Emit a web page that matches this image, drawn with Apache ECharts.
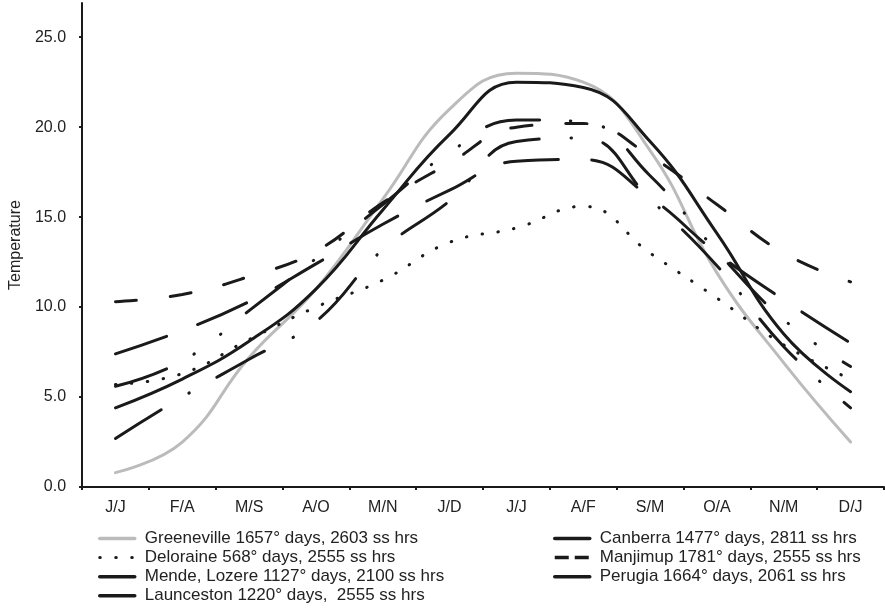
<!DOCTYPE html>
<html>
<head>
<meta charset="utf-8">
<script src="https://cdn.jsdelivr.net/npm/echarts@6/dist/echarts.min.js"></script>
<style>
  html, body { margin: 0; padding: 0; background: #fff; }
  #chart { width: 885px; height: 610px; }
</style>
</head>
<body>
<div id="chart"></div>
<script>
// month pairs (northern / southern hemisphere)
var months = ["J/J", "F/A", "M/S", "A/O", "M/N", "J/D", "J/J", "A/F", "S/M", "O/A", "N/M", "D/J"];
var yTicks = [0, 5, 10, 15, 20, 25];

var greeneville = [0.8, 2.5, 7.2, 11.0, 16.0, 21.0, 23.0, 22.5, 18.7, 11.9, 6.9, 2.5];
var deloraine   = [5.7, 6.3, 8.2, 10.0, 11.5, 13.6, 14.4, 15.6, 13.0, 10.5, 7.9, 6.0];
var mende       = [2.7, 5.0, 7.1, 9.2, 13.2, 15.9, 19.2, 19.4, 16.0, 12.3, 7.8, 4.4];
var launceston  = [7.4, 8.7, 10.3, 12.4, 14.6, 16.5, 18.1, 18.2, 16.1, 13.0, 10.4, 8.0];
var canberra    = [5.6, 7.0, 9.8, 12.7, 15.7, 18.6, 20.4, 20.3, 17.3, 13.1, 9.3, 6.7];
var manjimup    = [10.3, 10.7, 11.7, 13.1, 15.8, 18.0, 20.0, 20.2, 18.4, 15.7, 13.0, 11.4];
var perugia     = [4.4, 6.0, 8.1, 11.0, 15.4, 19.6, 22.5, 22.2, 19.2, 14.1, 8.5, 5.3];

var names = {
  greeneville: "Greeneville 1657\u00b0 days, 2603 ss hrs",
  deloraine: "Deloraine 568\u00b0 days, 2555 ss hrs",
  mende: "Mende, Lozere 1127\u00b0 days, 2100 ss hrs",
  launceston: "Launceston 1220\u00b0 days,  2555 ss hrs",
  canberra: "Canberra 1477\u00b0 days, 2811 ss hrs",
  manjimup: "Manjimup 1781\u00b0 days, 2555 ss hrs",
  perugia: "Perugia 1664\u00b0 days, 2061 ss hrs"
};

var black = "#1a1a1a";
var font = "'Liberation Sans', Arial, Helvetica, sans-serif";

function makeLine(name, data, color, type) {
  return {
    name: name,
    type: "line",
    data: data,
    smooth: 0.45,
    symbol: "none",
    silent: true,
    lineStyle: { color: color, width: 3, type: type, cap: "round" },
    itemStyle: { color: color },
    z: 2
  };
}

var chart = echarts.init(document.getElementById("chart"), null, { renderer: "canvas" });

var legendText = { color: "#222", fontSize: 17, fontFamily: font, lineHeight: 16, padding: [0, 0, 0, 5] };

// two vertical legend columns below the plot
function legendBox(left, items) {
  return {
    orient: "vertical",
    left: left,
    top: 530,
    height: 100,
    padding: 0,
    itemWidth: 35,
    itemHeight: 14,
    itemGap: 2.1,
    itemStyle: { opacity: 0 },
    lineStyle: { width: 3.5 },
    textStyle: legendText,
    selectedMode: false,
    data: items
  };
}

var option = {
  backgroundColor: "#ffffff",
  animation: false,
  grid: { left: 79, right: 1, top: 3, bottom: 123 },
  legend: [
    legendBox(98, [
      names.greeneville,
      { name: names.deloraine, lineStyle: { type: [0.5, 15.5], cap: "round", width: 3 } },
      names.mende,
      names.launceston
    ]),
    legendBox(553, [
      names.canberra,
      { name: names.manjimup, lineStyle: { type: [14, 6], cap: "butt", width: 3.5 } },
      names.perugia
    ])
  ],
  xAxis: {
    type: "category",
    data: months,
    boundaryGap: true,
    axisLine: { lineStyle: { color: black, width: 2 } },
    axisTick: { show: true, length: 3, inside: false, lineStyle: { color: black, width: 2 } },
    axisLabel: { color: "#222", fontSize: 16, fontFamily: font, margin: 13, interval: 0 },
    splitLine: { show: false }
  },
  yAxis: {
    type: "value",
    min: 0,
    max: 26.9,
    name: "Temperature",
    nameLocation: "middle",
    nameGap: 58,
    nameTextStyle: { color: "#222", fontSize: 16, fontFamily: font },
    axisLine: { show: true, lineStyle: { color: black, width: 2 } },
    axisTick: { show: true, length: 3, customValues: yTicks, lineStyle: { color: black, width: 2 } },
    axisLabel: {
      color: "#222",
      fontSize: 16,
      fontFamily: font,
      margin: 16,
      customValues: yTicks,
      formatter: function (v) { return v.toFixed(1); }
    },
    splitLine: { show: false }
  },
  series: [
    makeLine(names.greeneville, greeneville, "#bbbbbb", "solid"),
    makeLine(names.deloraine, deloraine, black, [0.5, 15.5]),
    makeLine(names.mende, mende, black, [54, 32, 0.5, 32]),
    makeLine(names.launceston, launceston, black, [54, 33]),
    makeLine(names.canberra, canberra, black, [54, 31, 0.5, 33, 0.5, 33]),
    makeLine(names.manjimup, manjimup, black, [21, 34]),
    makeLine(names.perugia, perugia, black, "solid")
  ]
};

chart.setOption(option);
</script>
</body>
</html>
